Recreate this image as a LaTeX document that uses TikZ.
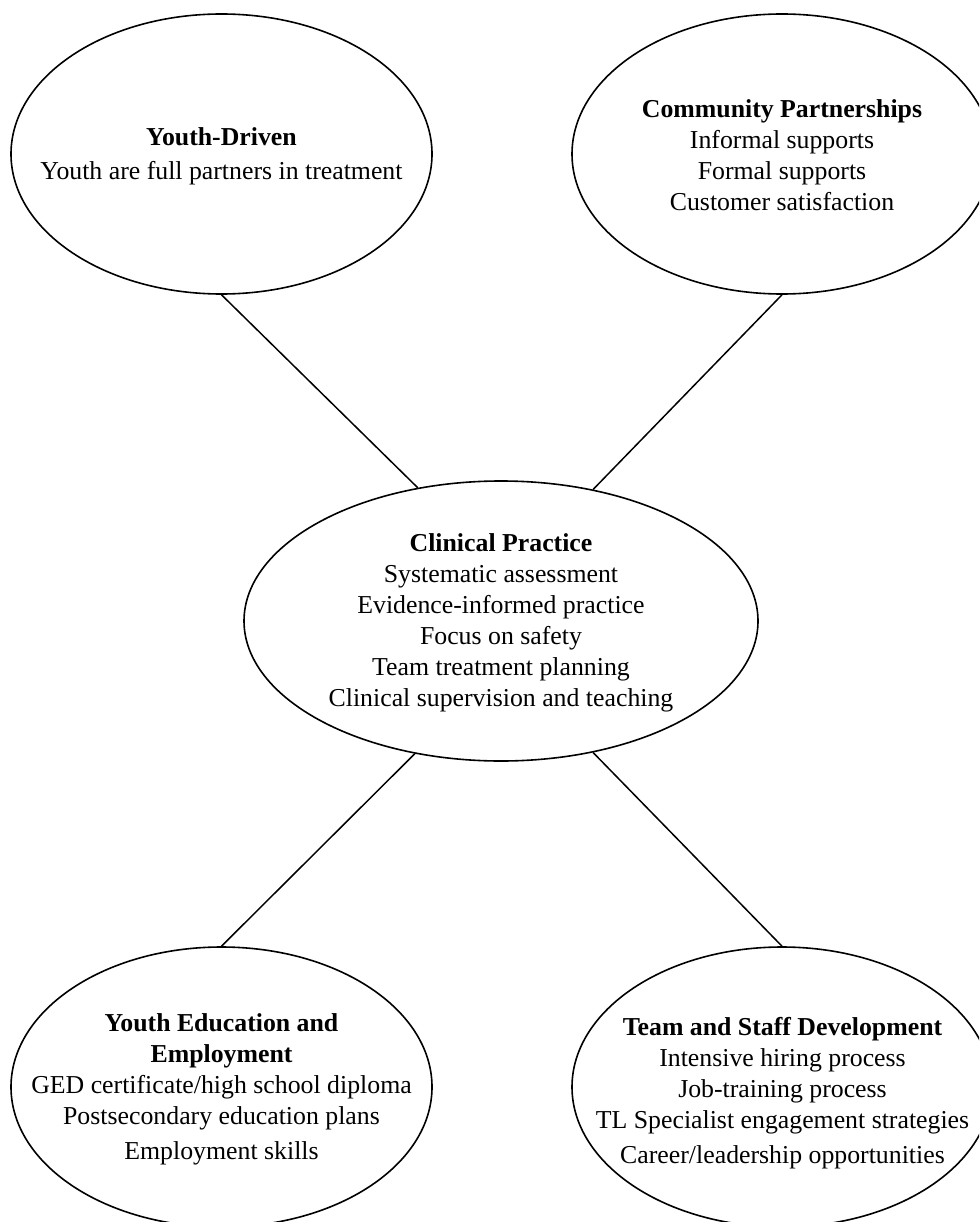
\documentclass[tikz,border=0pt]{standalone}
\usepackage{fontspec}
\setmainfont{Liberation Serif}
\usetikzlibrary{shapes.geometric}
\begin{document}
\begin{tikzpicture}[x=1pt,y=-1pt,
  bubble/.style={ellipse, draw, line width=1.6pt, inner sep=0pt, minimum height=280pt},
  bubtext/.style={align=center, inner sep=0pt, font=\fontsize{25.8}{31}\selectfont},
  link/.style={line width=1.5pt}]
\useasboundingbox (0,0) rectangle (979,1222);
\clip (0,0) rectangle (979,1222);
% ellipses
\node[bubble, minimum width=421pt] (yd) at (221.5,154) {};
\node[bubble, minimum width=420pt] (cp2) at (782,154) {};
\node[bubble, minimum width=514pt] (cp) at (501,621) {};
\node[bubble, minimum width=421pt] (ye) at (221.5,1087) {};
\node[bubble, minimum width=420pt] (ts) at (782,1087) {};
% texts
\node[bubtext] (ydt) at (221.5,156) {\textbf{Youth-Driven}\\[3pt]Youth are full partners in treatment};
\node[bubtext] (cp2t) at (782,155.5) {\textbf{Community Partnerships}\\Informal supports\\Formal supports\\Customer satisfaction};
\node[bubtext] (cpt) at (501,622.5) {\textbf{Clinical Practice}\\Systematic assessment\\Evidence-informed practice\\Focus on safety\\Team treatment planning\\Clinical supervision and teaching};
\node[bubtext] (yet) at (221.5,1089) {\textbf{Youth Education and}\\\textbf{Employment}\\GED certificate/high school diploma\\Postsecondary education plans\\[4pt]Employment skills};
\node[bubtext] (tst) at (782.5,1093) {\textbf{Team and Staff Development}\\Intensive hiring process\\Job-training process\\TL Specialist engagement strategies\\[4pt]Career/leadership opportunities};
% connectors
\draw[link] (yd.south) -- (cp.122);
\draw[link] (cp.55.4) -- (cp2.south);
\draw[link] (cp.-123) -- (ye.north);
\draw[link] (cp.-55.4) -- (ts.north);
\end{tikzpicture}
\end{document}
